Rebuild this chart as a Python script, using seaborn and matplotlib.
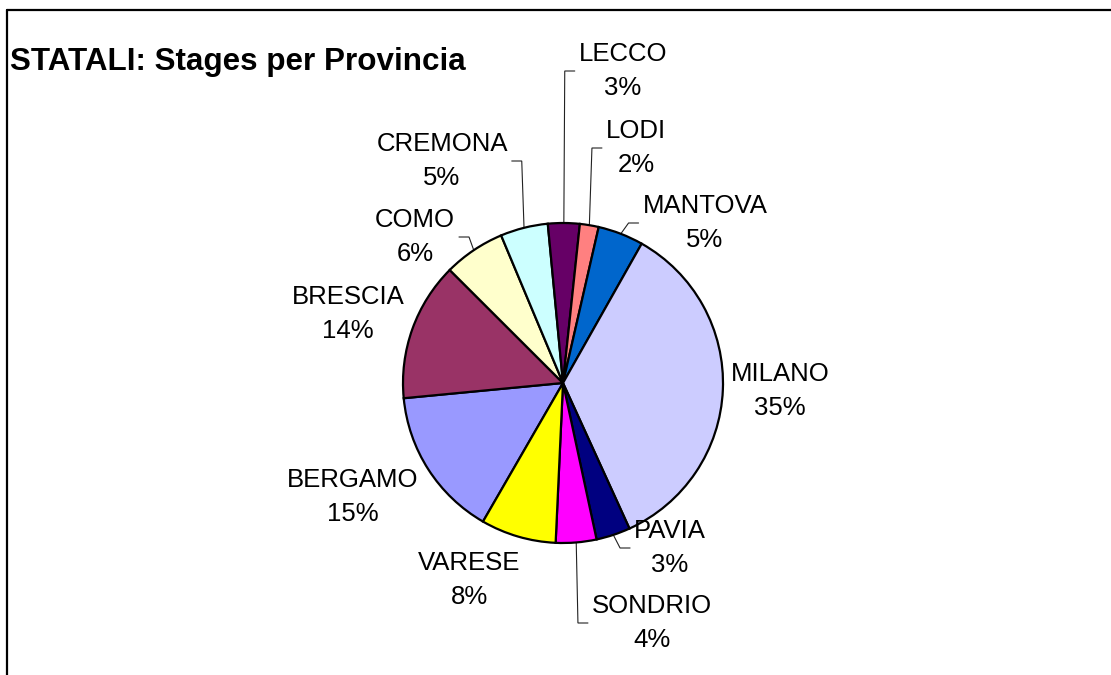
import matplotlib
matplotlib.use("Agg")
import matplotlib.pyplot as plt
from matplotlib.lines import Line2D
import numpy as np
import seaborn as sns

# ---- data (percent of stages per province) ----
provinces = ["BERGAMO", "BRESCIA", "COMO", "CREMONA", "LECCO", "LODI",
             "MANTOVA", "MILANO", "PAVIA", "SONDRIO", "VARESE"]
shares = [15.15, 14.0, 6.2, 4.8, 3.2, 1.9, 4.6, 35.0, 3.45, 4.1, 7.6]
slice_colors = ["#9999FF", "#993366", "#FFFFCC", "#CCFFFF", "#660066", "#FF8080",
                "#0066CC", "#CCCCFF", "#000080", "#FF00FF", "#FFFF00"]
title_text = "STATALI: Stages per Provincia"

# ---- layout (pixel positions of label blocks, image coords from top) ----
W, H = 1111, 675
pie_center_img = (563, 383)
pie_radius = 160
label_pos_img = {
    "BERGAMO": (353, 497), "BRESCIA": (348, 314), "COMO": (415, 237),
    "CREMONA": (442, 161), "LECCO": (623, 71), "LODI": (636, 148),
    "MANTOVA": (705, 223), "MILANO": (780, 391), "PAVIA": (670, 548),
    "SONDRIO": (652, 623), "VARESE": (469, 580),
}
with_leader = {"COMO", "CREMONA", "LECCO", "LODI", "MANTOVA", "PAVIA", "SONDRIO"}

sns.set_style("white")
plt.rcParams["font.family"] = ["Liberation Sans", "DejaVu Sans"]

fig = plt.figure(figsize=(W / 100, H / 100), dpi=100)
fig.patch.set_facecolor("white")
ax = fig.add_axes([0, 0, 1, 1])

cx, cy = pie_center_img[0], H - pie_center_img[1]
wedges, _ = ax.pie(
    shares, colors=slice_colors, startangle=-120, counterclock=False,
    center=(cx, cy), radius=pie_radius,
    wedgeprops=dict(edgecolor="black", linewidth=1.6),
)
ax.set_xlim(0, W)
ax.set_ylim(0, H)
ax.set_aspect("equal")
ax.axis("off")

texts = {}
for name, val in zip(provinces, shares):
    lx, ly = label_pos_img[name]
    texts[name] = ax.text(lx, H - ly, f"{name}\n{val:.0f}%", ha="center", va="center",
                          fontsize=18.5, color="black", linespacing=1.5)

ax.text(10, H - 70, title_text, ha="left", va="baseline", fontsize=22.6,
        fontweight="bold", color="black")

# leader lines
fig.canvas.draw()
renderer = fig.canvas.get_renderer()
inv = ax.transData.inverted()
for name, w in zip(provinces, wedges):
    if name not in with_leader:
        continue
    mid = np.deg2rad((w.theta1 + w.theta2) / 2)
    px, py = cx + pie_radius * np.cos(mid), cy + pie_radius * np.sin(mid)
    bb = texts[name].get_window_extent(renderer)
    (x0, y0), (x1, y1) = inv.transform([[bb.x0, bb.y0], [bb.x1, bb.y1]])
    ymid = (y0 + y1) / 2
    if (x0 + x1) / 2 > px:
        end = x0 - 4
        elbow = end - 10
    else:
        end = x1 + 4
        elbow = end + 10
    ax.plot([px, elbow, end], [py, ymid, ymid], color="#222222", lw=0.8,
            solid_joinstyle="miter", zorder=0.5)

# chart area border (top and left visible)
fig.add_artist(Line2D([7, W], [H - 10, H - 10], transform=None, color="black", lw=1.6))
fig.add_artist(Line2D([7, 7], [0, H - 10], transform=None, color="black", lw=1.6))

fig.savefig("out.png", dpi=100, facecolor="white")
